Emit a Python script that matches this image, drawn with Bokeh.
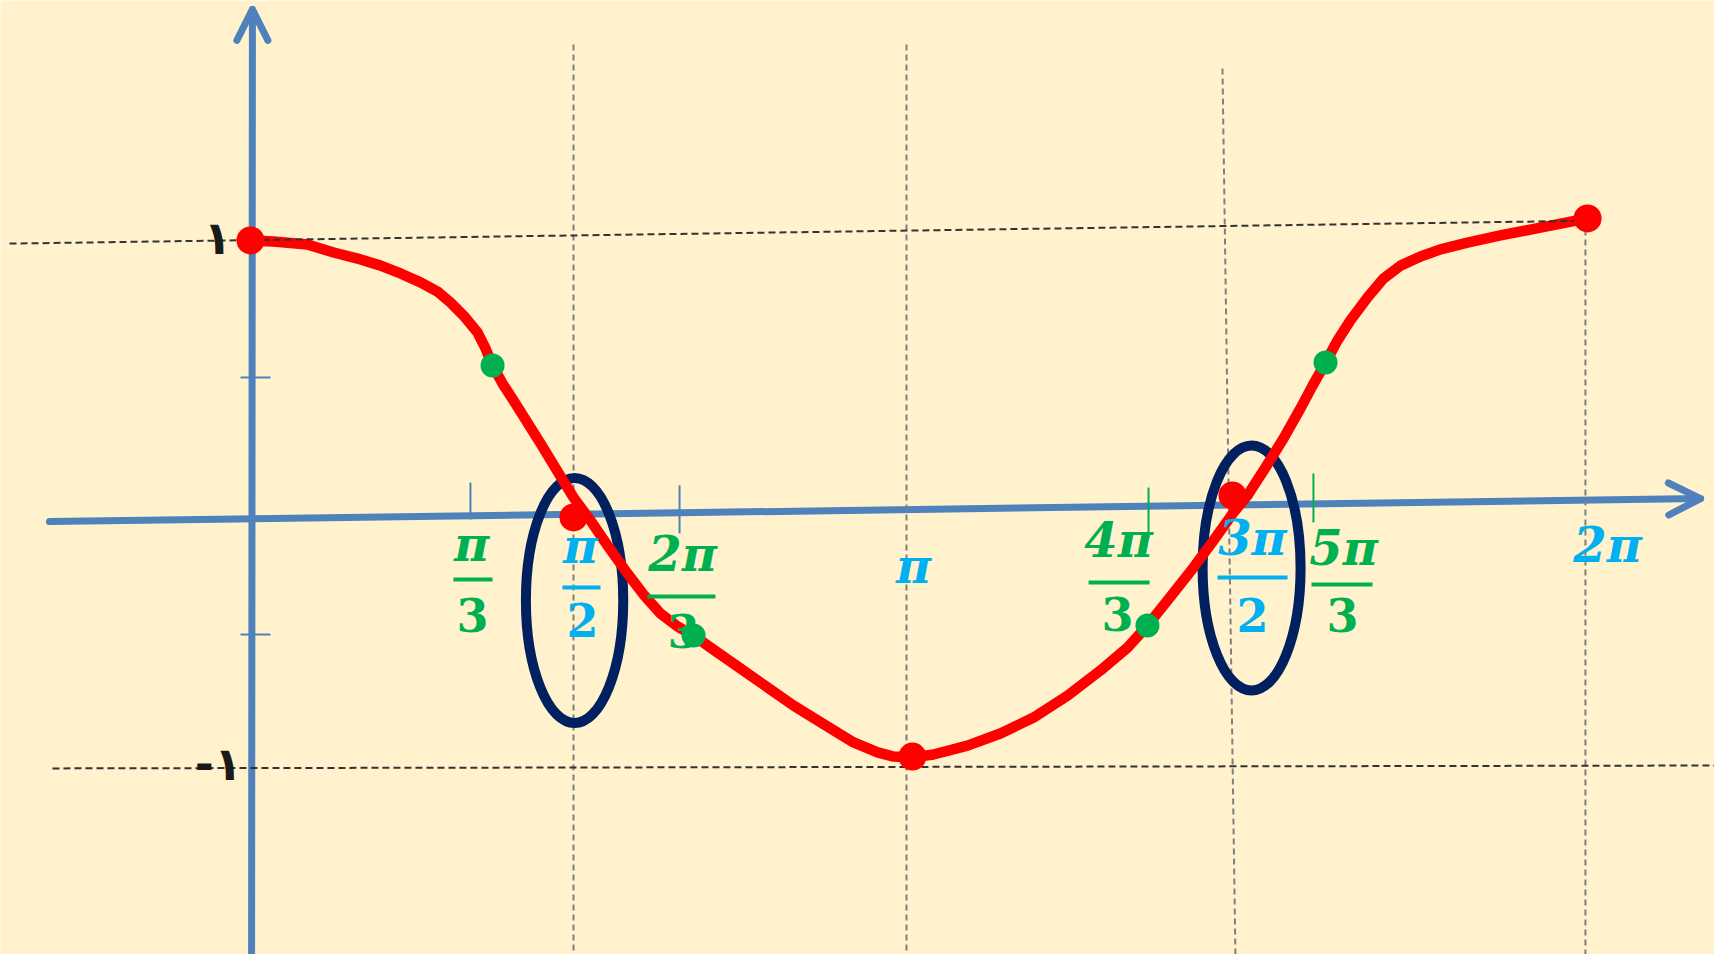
from bokeh.plotting import figure
from bokeh.models import Range1d, Arrow, OpenHead, ColumnDataSource
from bokeh.core.properties import value
from bokeh.embed import file_html
from bokeh.resources import INLINE

# ---------------- data ----------------
curve_x = [0.000, 0.108, 0.268, 0.391, 0.504, 0.612, 0.706, 0.800, 0.880, 0.941,
           1.002, 1.068, 1.106, 1.139, 1.186, 1.238, 1.285, 1.365, 1.445, 1.520,
           1.600, 1.680, 1.774, 1.849, 1.929, 2.009, 2.085, 2.165, 2.273, 2.400,
           2.555, 2.715, 2.838, 2.951, 3.026, 3.115, 3.214, 3.374, 3.529, 3.685,
           3.845, 4.000, 4.127, 4.221, 4.315, 4.438, 4.532, 4.626, 4.692, 4.776,
           4.861, 4.941, 4.998, 5.059, 5.115, 5.176, 5.256, 5.332, 5.412, 5.506,
           5.600, 5.727, 5.882, 6.094, 6.292]
curve_y = [1.023, 1.019, 1.008, 0.977, 0.954, 0.927, 0.897, 0.863, 0.828, 0.786,
           0.737, 0.672, 0.611, 0.546, 0.477, 0.412, 0.351, 0.248, 0.141, 0.042,
           -0.046, -0.141, -0.248, -0.328, -0.401, -0.450, -0.485, -0.531, -0.592, -0.664,
           -0.752, -0.832, -0.893, -0.931, -0.947, -0.950, -0.939, -0.905, -0.859, -0.798,
           -0.714, -0.618, -0.531, -0.447, -0.351, -0.225, -0.122, -0.015, 0.050, 0.156,
           0.267, 0.382, 0.469, 0.557, 0.641, 0.718, 0.805, 0.878, 0.927, 0.962,
           0.989, 1.015, 1.042, 1.076, 1.107]

red_x = [0.000, 1.520, 3.115, 4.621, 6.292]
red_y = [1.023, -0.034, -0.947, 0.050, 1.107]

green_x = [1.139, 2.085, 4.221, 5.059]
green_y = [0.546, -0.485, -0.447, 0.557]

# fraction tick labels
frac_num = ["π", "π", "2π", "4π", "3π", "5π"]
frac_den = ["3", "2", "3", "3", "2", "3"]
frac_kind = ["g", "b", "g", "g", "b", "g"]
num_x = [1.040, 1.553, 2.033, 4.085, 4.715, 5.144]
num_y = [-0.134, -0.145, -0.172, -0.122, -0.111, -0.149]
den_x = [1.045, 1.562, 2.038, 4.080, 4.715, 5.139]
den_y = [-0.408, -0.427, -0.466, -0.401, -0.408, -0.408]
bar_x0 = [0.955, 1.468, 1.868, 3.944, 4.551, 4.993]
bar_x1 = [1.139, 1.647, 2.188, 4.231, 4.880, 5.280]
bar_y = [-0.271, -0.302, -0.336, -0.282, -0.263, -0.290]

# whole tick labels
whole_lab = ["π", "2π"]
whole_x = [3.120, 6.386]
whole_y = [-0.218, -0.141]

# small x ticks (π/3, 2π/3 blue ; 4π/3, 5π/3 green)
xt_x = [1.035, 2.019, 4.226, 5.002]
xt_y0 = [0.099, 0.088, 0.080, 0.134]
xt_y1 = [-0.042, -0.095, -0.111, -0.053]
xt_kind = ["b", "b", "g", "g"]

# y ticks at ±1/2
yt_y = [0.500, -0.481]

# dashed guide lines
vx0 = [1.520, 3.087, 4.574, 6.282]
vy0 = [1.771, 1.771, 1.679, 1.103]
vx1 = [1.520, 3.087, 4.635, 6.282]
vy1 = [-1.71, -1.71, -1.71, -1.71]
hx0 = [-1.134, -0.932]
hy0 = [1.011, -0.992]
hx1 = [6.358, 6.889]
hy1 = [1.099, -0.981]

# circled zero crossings
ell_x = [1.525, 4.711]
ell_y = [-0.351, -0.227]
ell_w = [0.458, 0.461]
ell_h = [0.935, 0.935]

# ---------------- styles ----------------
BG = "#FFF2CC"
AXIS = "#4F81BD"
RED = "#FF0000"
GREEN = "#00B050"
CYAN = "#00B0F0"
NAVY = "#002060"
col = {"g": GREEN, "b": CYAN}
tcol = {"g": GREEN, "b": AXIS}

p = figure(width=1714, height=954, output_backend="svg", toolbar_location=None,
           x_range=Range1d(-1.1765, 6.8894), y_range=Range1d(-1.7023, 1.9389),
           x_axis_location=None, y_axis_location=None, min_border=0, title=None)
p.grid.visible = False
p.outline_line_color = None
p.background_fill_color = BG
p.border_fill_color = BG

# axes as arrows
p.add_layout(Arrow(x_start=-0.946, y_start=-0.050, x_end=6.824, y_end=0.038,
                   line_color=AXIS, line_width=7, line_cap="round", level="underlay",
                   end=OpenHead(size=32, line_color=AXIS, line_width=7,
                                line_cap="round", line_join="round")))
p.add_layout(Arrow(x_start=0.005, y_start=-1.75, x_end=0.009, y_end=1.905,
                   line_color=AXIS, line_width=7, line_cap="round", level="underlay",
                   end=OpenHead(size=31, line_color=AXIS, line_width=7,
                                line_cap="round", line_join="round")))

# vertical dashed guides
p.segment(x0=vx0, y0=vy0, x1=vx1, y1=vy1, line_color="#7F7F7F", line_width=2,
          line_dash="6 4")

# ticks
p.segment(x0=xt_x, y0=xt_y0, x1=xt_x, y1=xt_y1,
          line_color=[tcol[k] for k in xt_kind], line_width=2)
p.segment(x0=[-0.047] * len(yt_y), y0=yt_y, x1=[0.094] * len(yt_y), y1=yt_y,
          line_color=AXIS, line_width=2)

# ellipses
p.ellipse(x=ell_x, y=ell_y, width=ell_w, height=ell_h, fill_color=None,
          line_color=NAVY, line_width=10)

# curve
p.line(curve_x, curve_y, line_color=RED, line_width=10.5, line_join="round",
       line_cap="round")

# horizontal dashed guides
p.segment(x0=hx0, y0=hy0, x1=hx1, y1=hy1, line_color="#333333", line_width=2,
          line_dash="7 4")

# labels
font = value("DejaVu Serif")
src_num = ColumnDataSource(dict(x=num_x, y=num_y, t=frac_num,
                                c=[col[k] for k in frac_kind]))
src_den = ColumnDataSource(dict(x=den_x, y=den_y, t=frac_den,
                                c=[col[k] for k in frac_kind]))
p.text(x="x", y="y", text="t", text_color="c", source=src_num, text_font=font,
       text_font_size="48px", text_font_style="bold italic", text_align="center",
       text_baseline="middle")
p.text(x="x", y="y", text="t", text_color="c", source=src_den, text_font=font,
       text_font_size="46px", text_font_style="bold", text_align="center",
       text_baseline="middle")
p.segment(x0=bar_x0, y0=bar_y, x1=bar_x1, y1=bar_y,
          line_color=[col[k] for k in frac_kind], line_width=4)
p.text(x=whole_x, y=whole_y, text=whole_lab, text_color=CYAN, text_font=font,
       text_font_size="48px", text_font_style="bold italic", text_align="center",
       text_baseline="middle")

# y labels (Arabic-Indic digits)
p.text(x=[-0.155], y=[1.034], text=["١"], text_color="#1A1A1A",
       text_font=value("DejaVu Sans"), text_font_size="46px", text_font_style="bold",
       text_align="center", text_baseline="middle")
p.text(x=[-0.04], y=[-0.975], text=["-١"], text_color="#1A1A1A",
       text_font=value("DejaVu Sans"), text_font_size="46px", text_font_style="bold",
       text_align="right", text_baseline="middle")

# dots
p.scatter(red_x, red_y, size=28, fill_color=RED, line_color=None)
p.scatter(green_x, green_y, size=24, fill_color=GREEN, line_color=None)

open("out.html", "w").write(file_html(p, INLINE))
